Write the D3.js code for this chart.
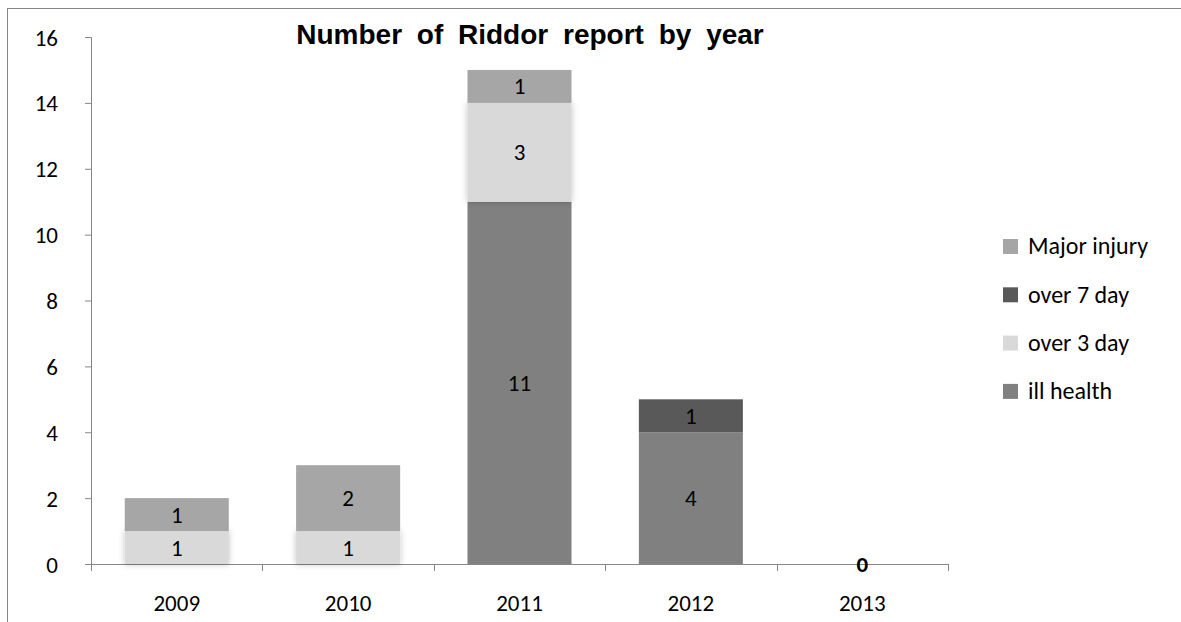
<!DOCTYPE html>
<html>
<head>
<meta charset="utf-8">
<script src="https://cdn.jsdelivr.net/npm/d3@7"></script>
<style>
  body { margin: 0; background: #fff; }
  svg text { font-family: Carlito, Lato, "Open Sans", sans-serif; }
</style>
</head>
<body>
<svg id="chart" width="1181" height="622"></svg>
<script>
const years = ["2009", "2010", "2011", "2012", "2013"];
const seriesNames = ["ill health", "over 3 day", "over 7 day", "Major injury"];
const illHealth = [0, 0, 11, 4, 0];
const over3Day = [1, 1, 3, 0, 0];
const over7Day = [0, 0, 0, 1, 0];
const majorInjury = [1, 2, 1, 0, 0];
const yTicks = [0, 2, 4, 6, 8, 10, 12, 14, 16];
const colors = ["#808080", "#d9d9d9", "#595959", "#a6a6a6"];

const FS = 23;
const svg = d3.select("#chart");

// frame of the chart area
svg.append("rect")
    .attr("x", 7.5).attr("y", 8.5)
    .attr("width", 1200).attr("height", 700)
    .attr("fill", "none").attr("stroke", "#868686");

const margin = {left: 91, top: 37, right: 948, bottom: 564};

const x = d3.scaleBand().domain(years).range([margin.left, margin.right]).paddingInner(0.393).paddingOuter(0.197);
const y = d3.scaleLinear().domain([0, 16]).range([margin.bottom, margin.top]);

const table = years.map((yr, i) => ({
    year: yr,
    "ill health": illHealth[i],
    "over 3 day": over3Day[i],
    "over 7 day": over7Day[i],
    "Major injury": majorInjury[i]
}));
const stacked = d3.stack().keys(seriesNames)(table);

const defs = svg.append("defs");
const glow = defs.append("filter").attr("id", "glow")
    .attr("x", "-10%").attr("y", "-10%").attr("width", "120%").attr("height", "120%");
glow.append("feGaussianBlur").attr("in", "SourceAlpha").attr("stdDeviation", 3).attr("result", "b");
glow.append("feFlood").attr("flood-color", "#000").attr("flood-opacity", 0.25);
glow.append("feComposite").attr("in2", "b").attr("operator", "in").attr("result", "s");
const merge = glow.append("feMerge");
merge.append("feMergeNode").attr("in", "s");
merge.append("feMergeNode").attr("in", "SourceGraphic");

// axes
const yAxis = d3.axisLeft(y).tickValues(yTicks).tickSize(6).tickPadding(27);
const gy = svg.append("g").attr("transform", `translate(${margin.left},0)`).call(yAxis);
gy.attr("font-size", null).attr("font-family", null);
gy.select(".domain").attr("stroke", "#868686").attr("d", `M-6,${margin.top}.5H0.5V${margin.bottom}`);
gy.selectAll(".tick line").attr("stroke", "#868686");
gy.selectAll(".tick text").attr("font-size", FS).attr("fill", "#000").attr("dy", "0.35em");

const xTickPos = years.map(yr => x(yr) - x.step() * x.paddingInner() / 2);
xTickPos.push(margin.right);
const gx = svg.append("g");
gx.append("line")
    .attr("x1", margin.left - 6).attr("x2", margin.right)
    .attr("y1", margin.bottom + 0.5).attr("y2", margin.bottom + 0.5)
    .attr("stroke", "#868686");
gx.selectAll(".xt").data(xTickPos).join("line")
    .attr("x1", d => Math.round(d) + 0.5).attr("x2", d => Math.round(d) + 0.5)
    .attr("y1", margin.bottom).attr("y2", margin.bottom + 7)
    .attr("stroke", "#868686");
gx.selectAll(".xl").data(years).join("text")
    .attr("x", d => x(d) + x.bandwidth() / 2)
    .attr("y", 611)
    .attr("text-anchor", "middle").attr("font-size", FS).attr("fill", "#000")
    .text(d => d);

// bars
const layers = svg.selectAll(".layer").data(stacked).join("g")
    .attr("fill", (d, i) => colors[i])
    .attr("filter", d => d.key === "over 3 day" ? "url(#glow)" : null);
layers.selectAll("rect").data(d => d).join("rect")
    .attr("x", d => x(d.data.year))
    .attr("y", d => y(d[1]))
    .attr("width", x.bandwidth())
    .attr("height", d => y(d[0]) - y(d[1]));

// value labels
stacked.forEach(s => {
    svg.append("g").selectAll("text").data(s.filter(d => d[1] - d[0] > 0)).join("text")
        .attr("x", d => x(d.data.year) + x.bandwidth() / 2)
        .attr("y", d => (y(d[0]) + y(d[1])) / 2)
        .attr("dy", "0.35em")
        .attr("text-anchor", "middle").attr("font-size", FS).attr("fill", "#000")
        .text(d => d[1] - d[0]);
});
// zero label for empty year
svg.append("g").selectAll("text")
    .data(table.filter(d => seriesNames.every(k => d[k] === 0))).join("text")
    .attr("x", d => x(d.year) + x.bandwidth() / 2)
    .attr("y", y(0))
    .attr("dy", "0.35em")
    .attr("text-anchor", "middle").attr("font-size", FS).attr("font-weight", "bold").attr("fill", "#000")
    .text(0);

// title
svg.append("text")
    .attr("x", 530).attr("y", 44)
    .attr("text-anchor", "middle")
    .attr("font-size", 28).attr("font-weight", "bold")
    .attr("word-spacing", 7)
    .style("font-family", "'Liberation Sans', Arial, sans-serif")
    .text("Number of Riddor report by year");

// legend
const legendItems = seriesNames.slice().reverse();
const legend = svg.append("g").attr("transform", "translate(1003,246)");
const li = legend.selectAll("g").data(legendItems).join("g")
    .attr("transform", (d, i) => `translate(0,${i * 48.3})`);
li.append("rect").attr("x", 0).attr("y", -7).attr("width", 15).attr("height", 15)
    .attr("fill", d => colors[seriesNames.indexOf(d)]);
li.append("text").attr("x", 25).attr("y", 0).attr("dy", "0.35em")
    .attr("font-size", 24).attr("fill", "#000").text(d => d);
</script>
</body>
</html>
